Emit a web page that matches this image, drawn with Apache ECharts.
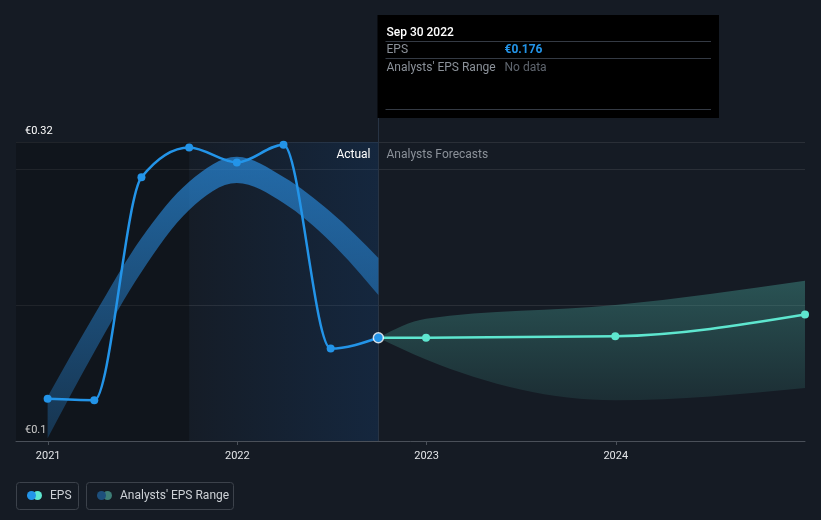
<!DOCTYPE html>
<html>
<head>
<meta charset="utf-8">
<script src="https://cdn.jsdelivr.net/npm/echarts@6/dist/echarts.min.js"></script>
<style>
  html, body { margin: 0; padding: 0; background: #151b24; }
  #chart { width: 821px; height: 520px; }
</style>
</head>
<body>
<div id="chart"></div>
<script>
// ---- data ----
const actualDates = ['2020-12-31','2021-03-31','2021-06-30','2021-09-30','2021-12-31','2022-03-31','2022-06-30','2022-09-30'];
const actualEps   = [0.131, 0.130, 0.294, 0.316, 0.305, 0.318, 0.168, 0.176];
const pastRangeLow  = [0.102, 0.1655, 0.2244, 0.270, 0.2898, 0.2751, 0.2464, 0.2074];
const pastRangeHigh = [0.1326, 0.1927, 0.2494, 0.2908, 0.3092, 0.2943, 0.2685, 0.2347];
const forecastDates = ['2022-09-30','2022-12-31','2023-12-31','2024-12-31'];
const forecastEps   = [0.176, 0.176, 0.177, 0.193];
const forecastLow   = [0.176, 0.160, 0.130, 0.139];
const forecastHigh  = [0.176, 0.190, 0.200, 0.218];
const yearTicks = [2021, 2022, 2023, 2024];
const yLabels = [0.1, 0.32];
const axisStart = '2020-10-31';
const axisEnd = '2024-12-31';
const lastActualDate = '2021-09-30';
const currentDate = '2022-09-30';

function ts(s) { const p = s.split('-').map(Number); return Date.UTC(p[0], p[1]-1, p[2]); }
function pairs(dates, vals) { return dates.map((d, i) => [ts(d), vals[i]]); }

// monotone-x cubic segments (pixel space)
function monoSegs(pts) {
  const n = pts.length, t = new Array(n);
  const sgn = v => v < 0 ? -1 : 1;
  if (n < 2) return [];
  if (n === 2) {
    const s = (pts[1][1] - pts[0][1]) / (pts[1][0] - pts[0][0]);
    t[0] = t[1] = s;
  } else {
    for (let i = 1; i < n - 1; i++) {
      const h0 = pts[i][0] - pts[i-1][0], h1 = pts[i+1][0] - pts[i][0];
      const s0 = (pts[i][1] - pts[i-1][1]) / h0, s1 = (pts[i+1][1] - pts[i][1]) / h1;
      const p = (s0 * h1 + s1 * h0) / (h0 + h1);
      t[i] = (sgn(s0) + sgn(s1)) * Math.min(Math.abs(s0), Math.abs(s1), 0.5 * Math.abs(p)) || 0;
    }
    t[0] = (3 * (pts[1][1] - pts[0][1]) / (pts[1][0] - pts[0][0]) - t[1]) / 2;
    t[n-1] = (3 * (pts[n-1][1] - pts[n-2][1]) / (pts[n-1][0] - pts[n-2][0]) - t[n-2]) / 2;
  }
  const segs = [];
  for (let i = 0; i < n - 1; i++) {
    const a = pts[i], b = pts[i+1], dx = (b[0] - a[0]) / 3;
    segs.push([a, [a[0] + dx, a[1] + dx * t[i]], [b[0] - dx, b[1] - dx * t[i+1]], b]);
  }
  return segs;
}
function linePath(pts) {
  const segs = monoSegs(pts);
  let d = 'M' + pts[0][0] + ' ' + pts[0][1];
  segs.forEach(s => { d += ' C' + s[1].join(' ') + ' ' + s[2].join(' ') + ' ' + s[3].join(' '); });
  return d;
}
function bandPath(up, lo) {
  let d = linePath(up);
  const segs = monoSegs(lo).reverse();
  d += ' L' + lo[lo.length-1][0] + ' ' + lo[lo.length-1][1];
  segs.forEach(s => { d += ' C' + s[2].join(' ') + ' ' + s[1].join(' ') + ' ' + s[0].join(' '); });
  return d + ' Z';
}

const chart = echarts.init(document.getElementById('chart'), null, { renderer: 'canvas' });
const FONT = 'Roboto, "Noto Sans", sans-serif';
const yearTs = yearTicks.map(y => Date.UTC(y, 0, 1));
const EPS_BLUE = '#2394e8', EPS_TEAL = '#5ee6cf';

function curveSeries(name, dates, vals, color, z) {
  return {
    name, type: 'custom', z, silent: true, clip: false,
    data: pairs(dates, vals), encode: { x: 0, y: 1 },
    renderItem: (params, api) => {
      if (params.dataIndex !== 0) return null;
      const pts = dates.map((d, i) => api.coord([ts(d), vals[i]]));
      return { type: 'path', shape: { pathData: linePath(pts) },
        style: { fill: 'none', stroke: color, lineWidth: 2.5, lineJoin: 'round' } };
    }
  };
}
function bandSeries(name, dates, lows, highs, grad, z) {
  return {
    name, type: 'custom', z, silent: true, clip: false,
    data: pairs(dates, highs), encode: { x: 0, y: 1 },
    renderItem: (params, api) => {
      if (params.dataIndex !== 0) return null;
      const up = dates.map((d, i) => api.coord([ts(d), highs[i]]));
      const lo = dates.map((d, i) => api.coord([ts(d), lows[i]]));
      return { type: 'path', shape: { pathData: bandPath(up, lo) },
        style: { fill: new echarts.graphic.LinearGradient(0, 0, 0, 1, grad), stroke: 'none' } };
    }
  };
}

const option = {
  backgroundColor: '#151b24',
  animation: false,
  grid: { left: 16, right: 16, top: 142, bottom: 79, containLabel: false },
  xAxis: [
    {
      type: 'time', min: ts(axisStart), max: ts(axisEnd),
      axisLine: { show: true, onZero: false, lineStyle: { color: '#4a5059', width: 1 } },
      axisTick: { show: false }, axisLabel: { show: false }, splitLine: { show: false }
    },
    {
      type: 'value', min: ts(axisStart), max: ts(axisEnd), position: 'bottom',
      axisLine: { show: false, onZero: false },
      axisTick: { show: true, length: 4, lineStyle: { color: '#4a5059' }, customValues: yearTs },
      axisLabel: { color: '#e3e5e8', fontSize: 11, fontFamily: FONT, margin: 10,
        customValues: yearTs, formatter: v => String(new Date(v).getUTCFullYear()) },
      splitLine: { show: false }
    }
  ],
  yAxis: {
    type: 'value', min: 0.1, max: 0.32, interval: 0.1,
    axisLine: { show: false }, axisTick: { show: false },
    axisLabel: { inside: true, margin: 9, color: '#ffffff', fontSize: 11, fontFamily: FONT,
      verticalAlign: 'bottom', padding: [0, 0, 5, 0],
      customValues: yLabels,
      formatter: v => '€' + (+(+v).toFixed(2)) },
    splitLine: { show: true, lineStyle: { color: 'rgba(255,255,255,0.09)', width: 1 } }
  },
  series: [
    {
      name: 'regions', type: 'line', data: [], silent: true, z: 1,
      markArea: { silent: true, data: [
        [ { xAxis: ts(axisStart), itemStyle: { color: 'rgba(0,0,0,0.22)' } }, { xAxis: ts(lastActualDate) } ],
        [ { xAxis: ts(lastActualDate), itemStyle: { color: new echarts.graphic.LinearGradient(0,0,1,0,[
            { offset: 0, color: 'rgba(20,70,130,0.03)' }, { offset: 1, color: 'rgba(20,70,130,0.28)' } ]) } },
          { xAxis: ts(currentDate) } ]
      ] }
    },
    bandSeries('pastRange', actualDates, pastRangeLow, pastRangeHigh, [
      { offset: 0, color: 'rgba(40,135,215,0.72)' }, { offset: 1, color: 'rgba(40,135,215,0.28)' } ], 2),
    bandSeries('forecastRange', forecastDates, forecastLow, forecastHigh, [
      { offset: 0, color: 'rgba(70,160,150,0.42)' }, { offset: 1, color: 'rgba(70,160,150,0.14)' } ], 2),
    curveSeries('EPS forecast curve', forecastDates, forecastEps, EPS_TEAL, 4),
    curveSeries('EPS curve', actualDates, actualEps, EPS_BLUE, 5),
    {
      name: 'EPS forecast', type: 'line', symbol: 'circle', symbolSize: 8, z: 6,
      lineStyle: { opacity: 0 }, itemStyle: { color: EPS_TEAL },
      data: pairs(forecastDates, forecastEps).slice(1)
    },
    {
      name: 'EPS', type: 'line', symbol: 'circle', symbolSize: 8, z: 6,
      lineStyle: { opacity: 0 }, itemStyle: { color: EPS_BLUE },
      data: pairs(actualDates, actualEps)
    },
    {
      name: 'current', type: 'scatter', symbolSize: 10, z: 7,
      itemStyle: { color: EPS_BLUE, borderColor: '#ffffff', borderWidth: 1.5 },
      data: [[ts(currentDate), actualEps[actualEps.length - 1]]]
    }
  ]
};
chart.setOption(option);

const lx = Math.round(chart.convertToPixel({ xAxisIndex: 0 }, ts(currentDate))) + 0.5;
const gridBottom = 520 - 79;
const tipL = lx - 1, tipR = 719, tipT = 15, tipB = 118;
const sepColor = '#343a44';
chart.setOption({
  graphic: [
    { type: 'line', shape: { x1: lx, y1: tipT, x2: lx, y2: gridBottom }, style: { stroke: '#283444', lineWidth: 1 }, z: 1 },
    { type: 'rect', shape: { x: tipL, y: tipT, width: tipR - tipL, height: tipB - tipT }, style: { fill: '#000000' }, z: 10 },
    { type: 'text', x: tipL + 9, y: 32.5, style: { text: 'Sep 30 2022', fill: '#ffffff', font: '500 12px ' + FONT, verticalAlign: 'middle' }, z: 11 },
    { type: 'line', shape: { x1: tipL + 8, y1: 41.5, x2: tipR - 8, y2: 41.5 }, style: { stroke: sepColor, lineWidth: 1 }, z: 11 },
    { type: 'text', x: tipL + 9, y: 50, style: { text: 'EPS', fill: '#8b9199', font: '12px ' + FONT, verticalAlign: 'middle' }, z: 11 },
    { type: 'text', x: tipL + 127, y: 50, style: { text: '€0.176', fill: EPS_BLUE, font: 'bold 12px ' + FONT, verticalAlign: 'middle' }, z: 11 },
    { type: 'line', shape: { x1: tipL + 8, y1: 58.5, x2: tipR - 8, y2: 58.5 }, style: { stroke: sepColor, lineWidth: 1 }, z: 11 },
    { type: 'text', x: tipL + 9, y: 68, style: { text: "Analysts' EPS Range", fill: '#8b9199', font: '12px ' + FONT, verticalAlign: 'middle' }, z: 11 },
    { type: 'text', x: tipL + 127, y: 68, style: { text: 'No data', fill: '#5f656e', font: '12px ' + FONT, verticalAlign: 'middle' }, z: 11 },
    { type: 'line', shape: { x1: tipL + 8, y1: 109.5, x2: tipR - 8, y2: 109.5 }, style: { stroke: sepColor, lineWidth: 1 }, z: 11 },
    { type: 'text', x: lx - 8, y: 155, style: { text: 'Actual', fill: '#ffffff', font: '12px ' + FONT, align: 'right', verticalAlign: 'middle' }, z: 11 },
    { type: 'text', x: lx + 8, y: 155, style: { text: 'Analysts Forecasts', fill: '#8b9199', font: '12px ' + FONT, align: 'left', verticalAlign: 'middle' }, z: 11 },
    // legend
    { type: 'rect', shape: { x: 16.5, y: 482.5, width: 62, height: 27, r: 3 }, style: { fill: 'none', stroke: '#3c424b', lineWidth: 1 }, z: 11 },
    { type: 'circle', shape: { cx: 37.5, cy: 495.5, r: 4.5 }, style: { fill: EPS_TEAL }, z: 11 },
    { type: 'circle', shape: { cx: 31.5, cy: 495.5, r: 4.5 }, style: { fill: EPS_BLUE }, z: 12 },
    { type: 'text', x: 50, y: 496, style: { text: 'EPS', fill: '#cdd1d6', font: '12px ' + FONT, verticalAlign: 'middle' }, z: 11 },
    { type: 'rect', shape: { x: 86.5, y: 482.5, width: 147, height: 27, r: 3 }, style: { fill: 'none', stroke: '#3c424b', lineWidth: 1 }, z: 11 },
    { type: 'circle', shape: { cx: 107.5, cy: 495.5, r: 4.5 }, style: { fill: '#3d7d76' }, z: 11 },
    { type: 'circle', shape: { cx: 101.5, cy: 495.5, r: 4.5 }, style: { fill: '#1d4f7c' }, z: 12 },
    { type: 'text', x: 120, y: 496, style: { text: "Analysts' EPS Range", fill: '#cdd1d6', font: '12px ' + FONT, verticalAlign: 'middle' }, z: 11 }
  ]
});
</script>
</body>
</html>
